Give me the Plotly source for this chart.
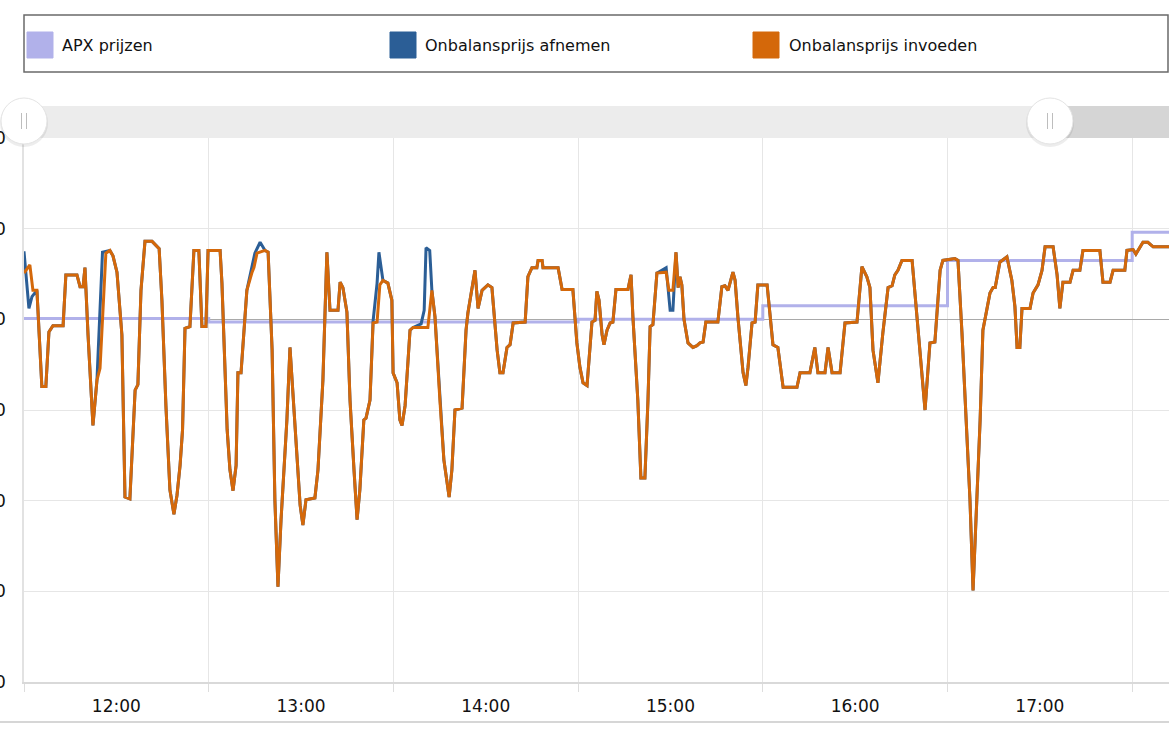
import plotly.graph_objects as go
import pandas as pd

# ---------------- data ----------------
BASE = "2021-06-15 12:00"

# Onbalansprijs invoeden: minutes after 12:00, EUR/MWh
invoeden_min = [0.0, 1.9, 2.9, 4.2, 5.8, 7.1, 8.1, 9.4, 12.7, 13.6, 17.2, 18.2, 19.2, 19.8, 20.8, 22.4, 23.7, 24.7, 26.6, 27.9,
                28.9, 30.2, 31.8, 32.8, 34.4, 36.1, 37.0, 38.0, 39.3, 41.6, 43.9, 44.8, 46.1, 47.4, 48.7, 49.7, 50.7, 51.5, 52.3, 53.9,
                55.2, 56.8, 57.8, 59.1, 59.8, 63.7, 64.3, 66.0, 66.9, 67.9, 68.9, 69.5, 70.5, 72.4, 74.1, 74.7, 75.7, 78.3, 79.3, 80.6,
                81.5, 82.5, 83.5, 84.5, 85.4, 86.4, 87.7, 88.7, 89.7, 90.6, 91.6, 94.5, 95.5, 97.1, 98.4, 99.4, 102.0, 102.7, 103.6, 104.9,
                105.9, 107.2, 108.2, 109.1, 110.4, 111.1, 112.4, 113.4, 114.7, 115.6, 116.6, 118.2, 119.5, 119.9, 121.2, 122.1, 122.8, 123.8, 125.4, 126.4,
                131.2, 132.5, 133.5, 135.1, 136.4, 138.1, 139.0, 140.0, 142.3, 143.6, 144.2, 146.5, 147.5, 148.8, 150.7, 152.0, 153.7, 154.6, 155.6, 156.9,
                157.9, 158.9, 162.8, 163.7, 165.0, 166.6, 167.0, 168.3, 168.6, 173.5, 174.8, 178.3, 179.6, 180.6, 181.6, 182.9, 183.9, 184.5, 185.5, 186.1,
                186.8, 187.8, 188.4, 189.4, 190.4, 191.3, 192.3, 196.2, 197.2, 197.8, 199.4, 200.4, 201.7, 202.7, 203.4, 204.3, 205.6, 208.6, 209.5, 210.8,
                211.8, 212.5, 213.1, 213.7, 214.4, 215.7, 217.3, 218.6, 219.6, 220.6, 221.5, 225.4, 226.7, 227.7, 228.7, 230.3, 231.0, 231.9, 233.6, 234.5,
                235.2, 236.5, 237.5, 238.4, 241.4, 242.3, 243.3, 244.9, 246.6, 251.1, 252.1, 255.3, 256.9, 257.9, 260.2, 261.2, 262.5, 265.1, 266.7, 270.6,
                272.2, 273.8, 274.8, 275.8, 277.4, 279.0, 280.7, 282.0, 282.9, 283.9, 285.2, 288.5, 289.4, 291.1, 292.7, 294.3, 295.9, 297.6, 298.5, 302.4,
                303.4, 304.7, 306.0, 307.3, 308.3, 309.6, 310.6, 311.5, 312.8, 313.8, 314.8, 315.5, 317.0, 319.3, 320.9, 321.9, 322.6, 323.5, 324.2, 326.8,
                327.8, 329.4, 330.7, 331.7, 334.3, 335.6, 336.5, 337.5, 339.8, 340.8, 343.0, 344.0, 349.5, 350.5, 352.8, 353.8, 357.6, 358.3, 360.3, 361.2,
                363.5, 365.1, 366.8, 372.0]
invoeden_eur = [51, 60, 32, 32, -74, -74, -14, -7, -7, 49, 49, 36, 36, 57, -17, -117, -67, -54, 73, 76,
                70, 52, -17, -196, -198, -78, -72, 32, 86, 86, 78, 21, -95, -188, -215, -194, -161, -122, -10, -8,
                76, 76, -8, -8, 76, 76, 40, -122, -166, -189, -161, -59, -59, 32, 52, 57, 73, 76, 74, -34,
                -199, -295, -221, -161, -111, -31, -100, -161, -205, -227, -199, -197, -166, -67, 74, 10, 10, 41, 35, 8,
                -89, -166, -221, -188, -111, -109, -89, -4, -3, 38, 43, 40, 21, -59, -70, -111, -117, -95, -12, -9,
                -9, 32, 3, -89, -155, -196, -166, -100, -98, -12, 7, 54, 12, 32, 38, 35, -34, -59, -59, -31,
                -28, -4, -3, 47, 57, 57, 65, 65, 57, 57, 33, 33, -26, -53, -70, -73, -34, -3, -1, 31,
                21, -17, -28, -12, -4, -3, 33, 33, 49, 3, -89, -175, -175, -89, -8, -6, 51, 52, 32, 32,
                74, 35, 47, 38, 0, -26, -31, -29, -26, -25, -3, -3, 36, 37, 32, 52, 43, 3, -59, -73,
                -53, -4, -3, 38, 38, 10, -28, -31, -75, -75, -59, -59, -31, -59, -59, -31, -59, -59, -4, -3,
                58, 47, 35, -34, -70, -15, 35, 37, 49, 54, 65, 65, 29, -45, -100, -26, -25, 54, 65, 67,
                65, -15, -100, -199, -299, -199, -111, -12, 10, 29, 35, 35, 63, 69, 43, 14, -31, -31, 12, 12,
                29, 38, 54, 80, 80, 49, 12, 41, 41, 54, 54, 76, 76, 41, 41, 54, 54, 76, 77, 72,
                85, 85, 80, 80]

# Onbalansprijs afnemen: minutes after 12:00, EUR/MWh
afnemen_min = [0.0, 1.6, 2.6, 4.2, 5.8, 7.1, 8.1, 9.4, 12.7, 13.6, 17.2, 18.2, 19.2, 19.8, 20.8, 22.4, 23.7, 25.5, 27.9,
               28.9, 30.2, 31.8, 32.8, 34.4, 36.1, 37.0, 38.0, 39.3, 41.6, 43.9, 44.8, 46.1, 47.4, 48.7, 49.7, 50.7, 51.5, 52.3, 53.9,
               55.2, 56.8, 57.8, 59.1, 59.8, 63.7, 64.3, 66.0, 66.9, 67.9, 68.9, 69.5, 70.5, 72.4, 74.1, 75.0, 76.7, 78.3, 79.3, 80.6,
               81.5, 82.5, 83.5, 84.5, 85.4, 86.4, 87.7, 88.7, 89.7, 90.6, 91.6, 94.5, 95.5, 97.1, 98.4, 99.4, 102.0, 102.7, 103.6, 104.9,
               105.9, 107.2, 108.2, 109.1, 110.4, 111.1, 112.4, 113.4, 114.7, 115.3, 116.3, 116.6, 118.2, 119.5, 119.9, 121.2, 122.1, 122.8, 123.8, 125.4, 126.4,
               129.0, 130.0, 130.6, 131.8, 132.5, 133.5, 135.1, 136.4, 138.1, 139.0, 140.0, 142.3, 143.6, 144.2, 146.5, 147.5, 148.8, 150.7, 152.0, 153.7, 154.6, 155.6, 156.9,
               157.9, 158.9, 162.8, 163.7, 165.0, 166.6, 167.0, 168.3, 168.6, 173.5, 174.8, 178.3, 179.6, 180.6, 181.6, 182.9, 183.9, 184.5, 185.5, 186.1,
               186.8, 187.8, 188.4, 189.4, 190.4, 191.3, 192.3, 196.2, 197.2, 197.8, 199.4, 200.4, 201.7, 202.7, 203.4, 204.3, 205.6, 208.6, 209.9, 210.8,
               211.8, 212.5, 213.1, 213.7, 214.4, 215.7, 217.3, 218.6, 219.6, 220.6, 221.5, 225.4, 226.7, 227.7, 228.7, 230.3, 231.0, 231.9, 233.6, 234.5,
               235.2, 236.5, 237.5, 238.4, 241.4, 242.3, 243.3, 244.9, 246.6, 251.1, 252.1, 255.3, 256.9, 257.9, 260.2, 261.2, 262.5, 265.1, 266.7, 270.6,
               272.2, 273.8, 274.8, 275.8, 277.4, 279.0, 280.7, 282.0, 282.9, 283.9, 285.2, 288.5, 289.4, 291.1, 292.7, 294.3, 295.9, 297.6, 298.5, 302.4,
               303.4, 304.7, 306.0, 307.3, 308.3, 309.6, 310.6, 311.5, 312.8, 313.8, 314.8, 315.5, 317.0, 319.3, 320.9, 321.9, 322.6, 323.5, 324.2, 326.8,
               327.8, 329.4, 330.7, 331.7, 334.3, 335.6, 336.5, 337.5, 339.8, 340.8, 343.0, 344.0, 349.5, 350.5, 352.8, 353.8, 357.6, 358.3, 360.3, 361.2,
               363.5, 365.1, 366.8, 372.0]
afnemen_eur = [75, 12, 25, 32, -74, -74, -14, -7, -7, 49, 49, 36, 36, 57, -17, -117, -67, 74, 76,
               70, 52, -17, -196, -198, -78, -72, 32, 86, 86, 78, 21, -95, -188, -215, -194, -161, -122, -10, -8,
               76, 76, -8, -8, 76, 76, 40, -122, -166, -189, -161, -59, -59, 32, 57, 73, 85, 76, 74, -34,
               -199, -295, -221, -161, -111, -31, -100, -161, -205, -227, -199, -197, -166, -67, 74, 10, 10, 41, 35, 8,
               -89, -166, -221, -188, -111, -109, -89, -2, 40, 74, 47, 43, 40, 21, -59, -70, -111, -117, -95, -12, -9,
               -5, 10, 79, 76, 32, 3, -89, -155, -196, -166, -100, -98, -12, 7, 54, 12, 32, 38, 35, -34, -59, -59, -31,
               -28, -4, -3, 47, 57, 57, 65, 65, 57, 57, 33, 33, -26, -53, -70, -73, -34, -3, -1, 31,
               21, -17, -28, -12, -4, -3, 33, 33, 49, 3, -89, -175, -175, -89, -8, -6, 51, 57, 10, 10,
               74, 35, 47, 38, 0, -26, -31, -29, -26, -25, -3, -3, 36, 37, 32, 52, 43, 3, -59, -73,
               -53, -4, -3, 38, 38, 10, -28, -31, -75, -75, -59, -59, -31, -59, -59, -31, -59, -59, -4, -3,
               58, 47, 35, -34, -70, -15, 35, 37, 49, 54, 65, 65, 29, -45, -100, -26, -25, 54, 65, 67,
               65, -15, -100, -199, -299, -199, -111, -12, 10, 29, 35, 35, 63, 69, 43, 14, -31, -31, 12, 12,
               29, 38, 54, 80, 80, 49, 12, 41, 41, 54, 54, 76, 76, 41, 41, 54, 54, 76, 77, 72,
               85, 85, 80, 80]

# APX prijzen (hourly)
apx_hours = ["12:00", "13:00", "14:00", "15:00", "16:00", "17:00", "18:00"]
apx_eur = [1, -3, -3, 0, 15, 65, 96]

y_ticks = [200, 100, 0, -100, -200, -300, -400]
series_names = ["APX prijzen", "Onbalansprijs afnemen", "Onbalansprijs invoeden"]
series_colors = ["#b1b1ea", "#2b5e96", "#d4680a"]

# ---------------- build ----------------
day = BASE.split(" ")[0]
base = pd.Timestamp(BASE)
t_inv = [base + pd.Timedelta(minutes=m) for m in invoeden_min]
t_afn = [base + pd.Timedelta(minutes=m) for m in afnemen_min]
t_apx = [pd.Timestamp(f"{day} {h}") for h in apx_hours]
t_apx = t_apx + [t_apx[-1] + pd.Timedelta(hours=1)]
v_apx = apx_eur + [apx_eur[-1]]

W, H = 1169, 734
ML, MT, MB, MR = 24, 138, 52, 0
PW, PH = W - ML - MR, H - MT - MB


def PX(x):
    return (x - ML) / PW


def PY(y):
    return (H - MB - y) / PH


fig = go.Figure()
fig.add_trace(go.Scatter(x=t_apx, y=v_apx, mode="lines", line=dict(color=series_colors[0], width=3, shape="hv"),
                         name=series_names[0], hoverinfo="skip"))
fig.add_trace(go.Scatter(x=t_afn, y=afnemen_eur, mode="lines", line=dict(color=series_colors[1], width=3),
                         name=series_names[1], hoverinfo="skip"))
fig.add_trace(go.Scatter(x=t_inv, y=invoeden_eur, mode="lines", line=dict(color=series_colors[2], width=3),
                         name=series_names[2], hoverinfo="skip"))

shapes = []
annotations = []

# legend box
shapes.append(dict(type="rect", xref="paper", yref="paper", x0=PX(24), x1=PX(1168), y0=PY(72), y1=PY(15),
                   line=dict(color="#6a6a6a", width=1.5), fillcolor="white", layer="above"))
sw_x = [27, 390, 753]
tx_x = [60, 423, 787]
for i in range(3):
    shapes.append(dict(type="rect", xref="paper", yref="paper", x0=PX(sw_x[i]), x1=PX(sw_x[i] + 26),
                       y0=PY(58), y1=PY(32), line=dict(color=series_colors[i], width=1),
                       fillcolor=series_colors[i], layer="above"))
    annotations.append(dict(xref="paper", yref="paper", x=PX(tx_x[i]), y=PY(45), xanchor="left", yanchor="middle",
                            text=series_names[i], showarrow=False,
                            font=dict(family="DejaVu Sans", size=16, color="#111111")))

# scrollbar
shapes.append(dict(type="rect", xref="paper", yref="paper", x0=PX(24), x1=PX(1050), y0=PY(138), y1=PY(106),
                   line=dict(width=0), fillcolor="#ececec", layer="above"))
shapes.append(dict(type="rect", xref="paper", yref="paper", x0=PX(1050), x1=PX(1169), y0=PY(138), y1=PY(106),
                   line=dict(width=0), fillcolor="#d5d5d5", layer="above"))
for cx in [24, 1050]:
    cy, r = 121, 23
    shapes.append(dict(type="circle", xref="paper", yref="paper", x0=PX(cx - r - 1), x1=PX(cx + r + 1),
                       y0=PY(cy + r + 3), y1=PY(cy - r + 1), line=dict(width=0),
                       fillcolor="rgba(0,0,0,0.07)", layer="above"))
    shapes.append(dict(type="circle", xref="paper", yref="paper", x0=PX(cx - r), x1=PX(cx + r),
                       y0=PY(cy + r), y1=PY(cy - r), line=dict(color="#e4e4e4", width=1),
                       fillcolor="white", layer="above"))
    for dx in (-2.5, 2.5):
        shapes.append(dict(type="line", xref="paper", yref="paper", x0=PX(cx + dx), x1=PX(cx + dx),
                           y0=PY(129), y1=PY(113), line=dict(color="#bdbdbd", width=1), layer="above"))

# bottom border line
shapes.append(dict(type="line", xref="paper", yref="paper", x0=PX(0), x1=PX(1169), y0=PY(722), y1=PY(722),
                   line=dict(color="#d6d6d6", width=2), layer="above"))

x_end = base + pd.Timedelta(minutes=PW / 184.7 * 60)

fig.update_layout(
    width=W, height=H,
    margin=dict(l=ML, r=MR, t=MT, b=MB, pad=0, autoexpand=False),
    paper_bgcolor="white", plot_bgcolor="white",
    showlegend=False,
    shapes=shapes, annotations=annotations,
    hovermode=False,
    xaxis=dict(type="date", range=[base, x_end], tick0=base, dtick=3600000, tickformat="%H:00",
               ticklabelmode="period", showgrid=True, gridcolor="#e6e6e6", gridwidth=1,
               ticks="outside", ticklen=8, tickcolor="#dddddd", showline=True, linecolor="#d9d9d9", linewidth=1.5,
               tickfont=dict(family="DejaVu Sans", size=17, color="#111111"), ticklabelstandoff=0,
               zeroline=False, fixedrange=True, automargin=False),
    yaxis=dict(range=[-400, 200], tickvals=y_ticks, ticktext=[str(v) for v in y_ticks],
               showgrid=True, gridcolor="#e6e6e6", gridwidth=1,
               zeroline=True, zerolinecolor="#a9a9a9", zerolinewidth=1,
               showline=True, linecolor="#e2e2e2", linewidth=1.5, ticks="",
               tickfont=dict(family="DejaVu Sans", size=17, color="#111111"), ticklabelstandoff=13,
               fixedrange=True, automargin=False),
)

fig.write_html("out.html", config={"displayModeBar": False},
               post_script="document.body.style.margin='0';document.body.style.overflow='hidden';")
